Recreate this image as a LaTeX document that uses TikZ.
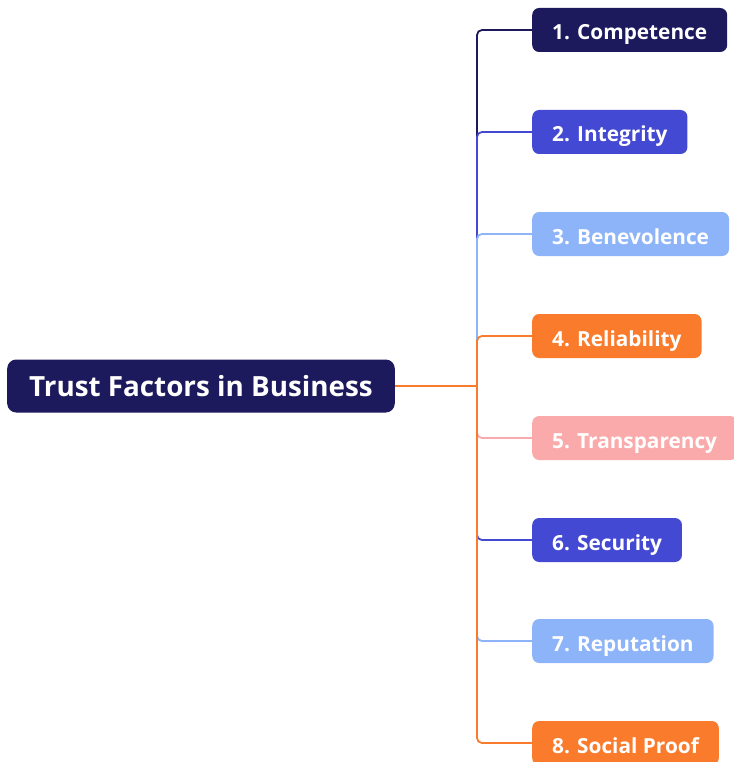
\documentclass[tikz,border=0pt]{standalone}
\usepackage{fontspec}
\setmainfont{Open Sans}
\definecolor{navy}{RGB}{28,26,92}
\definecolor{royal}{RGB}{68,73,212}
\definecolor{sky}{RGB}{141,180,248}
\definecolor{tangerine}{RGB}{249,123,43}
\definecolor{blush}{RGB}{250,170,170}

\begin{document}
\begin{tikzpicture}[x=1pt, y=-1pt,
    box/.style={anchor=west, rounded corners=7pt, text=white, inner xsep=20pt, minimum height=44pt, text height=20pt, text depth=0pt, font=\bfseries\fontsize{20.8}{24}\selectfont},
    link/.style={line width=1.8pt, rounded corners=5pt}]
  \useasboundingbox (0,0) rectangle (733,762);
  % main topic
  \node[box, fill=navy, rounded corners=9pt, inner xsep=22pt, minimum height=53pt, font=\bfseries\fontsize{27.8}{32}\selectfont] (root) at (7,386) {Trust Factors in Business};
  \coordinate (j) at (477,386);
  % the eight factors
  \node[box, fill=navy] (f1) at (532,30) {1. Competence}; \node[box, fill=royal] (f2) at (532,132) {2. Integrity};
  \node[box, fill=sky] (f3) at (532,234) {3. Benevolence}; \node[box, fill=tangerine] (f4) at (532,336) {4. Reliability};
  \node[box, fill=blush] (f5) at (532,438) {5. Transparency}; \node[box, fill=royal] (f6) at (532,540) {6. Security};
  \node[box, fill=sky] (f7) at (532,641) {7. Reputation}; \node[box, fill=tangerine] (f8) at (532,743) {8. Social Proof};
  \draw[link, navy] (j) |- (f1.west); \draw[link, royal] (j) |- (f2.west);
  \draw[link, sky] (j) |- (f3.west); \draw[link, tangerine] (j) |- (f4.west);
  \draw[link, blush] (j) |- (f5.west); \draw[link, royal] (j) |- (f6.west);
  \draw[link, sky] (j) |- (f7.west); \draw[link, tangerine] (j) |- (f8.west);
  \draw[link, tangerine] (root.east) -- (j);
\end{tikzpicture}
\end{document}
